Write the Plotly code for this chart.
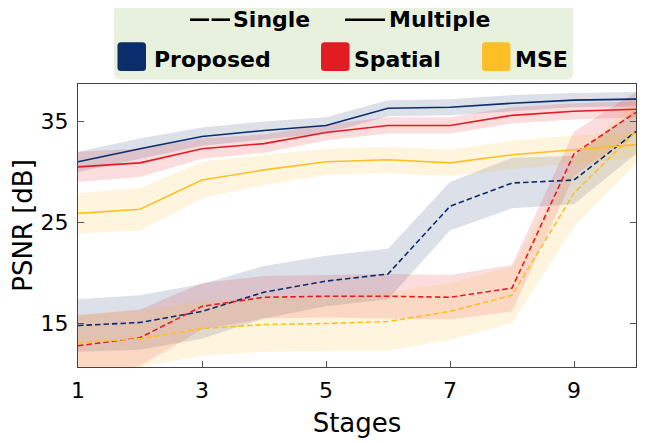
import plotly.graph_objects as go

stages = [1, 2, 3, 4, 5, 6, 7, 8, 9, 10]

# Multiple (solid) mean and spread
multi_proposed = [31.0, 32.3, 33.5, 34.1, 34.6, 36.3, 36.4, 36.8, 37.1, 37.2]
multi_proposed_sd = [1.0, 1.0, 0.9, 0.9, 0.8, 0.8, 0.8, 0.8, 0.7, 0.7]
multi_spatial = [30.5, 30.9, 32.3, 32.8, 33.9, 34.6, 34.6, 35.6, 36.0, 36.2]
multi_spatial_sd = [1.5, 1.4, 1.0, 0.9, 0.8, 0.8, 0.8, 0.8, 0.8, 0.8]
multi_mse = [25.9, 26.3, 29.2, 30.2, 31.0, 31.2, 30.9, 31.7, 32.2, 32.7]
multi_mse_sd = [2.0, 2.1, 1.8, 1.5, 1.3, 1.3, 1.3, 1.4, 1.4, 1.2]

# Single (dashed) mean and spread
single_proposed = [14.8, 15.1, 16.2, 18.1, 19.2, 19.9, 26.6, 28.9, 29.2, 34.0]
single_proposed_sd = [2.6, 2.7, 2.7, 2.6, 2.5, 2.5, 2.4, 2.5, 2.4, 2.2]
single_spatial = [12.8, 13.6, 16.7, 17.6, 17.7, 17.7, 17.6, 18.5, 31.8, 35.9]
single_spatial_sd = [3.0, 2.8, 2.3, 2.1, 2.1, 2.2, 2.2, 2.3, 2.2, 2.0]
single_mse = [13.1, 13.5, 14.5, 14.9, 15.0, 15.2, 16.2, 17.8, 27.9, 34.0]
single_mse_sd = [2.8, 2.8, 2.7, 2.7, 2.7, 2.9, 2.8, 2.8, 3.3, 3.2]

x_ticks = [1, 3, 5, 7, 9]
y_ticks = [15, 25, 35]

methods = ["Proposed", "Spatial", "MSE"]
colors = {"Proposed": "#0b2d6b", "Spatial": "#e31b23", "MSE": "#fdbf26"}
fills = {"Proposed": "rgba(11,45,107,0.15)", "Spatial": "rgba(227,27,35,0.15)",
         "MSE": "rgba(253,191,38,0.15)"}

series = {
    ("Proposed", "multi"): (multi_proposed, multi_proposed_sd),
    ("Spatial", "multi"): (multi_spatial, multi_spatial_sd),
    ("MSE", "multi"): (multi_mse, multi_mse_sd),
    ("Proposed", "single"): (single_proposed, single_proposed_sd),
    ("Spatial", "single"): (single_spatial, single_spatial_sd),
    ("MSE", "single"): (single_mse, single_mse_sd),
}

fig = go.Figure()

# bands
for m in methods:
    for kind in ["multi", "single"]:
        mean, sd = series[(m, kind)]
        up = [a + b for a, b in zip(mean, sd)]
        lo = [a - b for a, b in zip(mean, sd)]
        fig.add_trace(go.Scatter(
            x=stages + stages[::-1], y=up + lo[::-1], fill="toself",
            fillcolor=fills[m], line=dict(width=0), mode="lines",
            hoverinfo="skip", showlegend=False))

# lines
for m in methods:
    for kind in ["multi", "single"]:
        mean, sd = series[(m, kind)]
        fig.add_trace(go.Scatter(
            x=stages, y=mean, mode="lines",
            line=dict(color=colors[m], width=1.6,
                      dash="solid" if kind == "multi" else "5.5px,3px"),
            showlegend=False, name=f"{m} {kind}"))

# page offset (body margin) and plot-area geometry in screen pixels
OFF = 8
W, H = 657, 443
PL, PR, PT, PB = 78, 636, 84, 367          # plot area on screen
ML, MR, MT, MB = PL - OFF, W - (PR - OFF), PT - OFF, H - (PB - OFF)
PW, PH = W - ML - MR, H - MT - MB


def px(x):
    return (x - OFF - ML) / PW


def py(y):
    return (H - MB - (y - OFF)) / PH


def rrect(x0, y0, x1, y1, r):
    rx, ry = r / PW, r / PH
    X0, X1 = px(x0), px(x1)
    Y0, Y1 = py(y1), py(y0)  # bottom, top
    return (f"M {X0+rx},{Y0} L {X1-rx},{Y0} Q {X1},{Y0} {X1},{Y0+ry} "
            f"L {X1},{Y1-ry} Q {X1},{Y1} {X1-rx},{Y1} L {X0+rx},{Y1} "
            f"Q {X0},{Y1} {X0},{Y1-ry} L {X0},{Y0+ry} Q {X0},{Y0} {X0+rx},{Y0} Z")


shapes = []
annotations = []
# legend box
shapes.append(dict(type="path", xref="paper", yref="paper",
                   path=rrect(114, 1, 573, 79.5, 7),
                   fillcolor="#e8f0de", line=dict(width=0), layer="above"))
# line samples
ly = 19.7
for xa, xb in [(190, 209), (211.5, 230)]:
    shapes.append(dict(type="line", xref="paper", yref="paper",
                       x0=px(xa), x1=px(xb), y0=py(ly), y1=py(ly),
                       line=dict(color="black", width=2.6)))
shapes.append(dict(type="line", xref="paper", yref="paper",
                   x0=px(345), x1=px(385), y0=py(ly), y1=py(ly),
                   line=dict(color="black", width=2.6)))
legend_font = dict(family="DejaVu Sans", size=22, color="black")
for text, x0 in [("Single", 231), ("Multiple", 387)]:
    annotations.append(dict(text=f"<b>{text}</b>", xref="paper", yref="paper",
                            x=px(x0), y=py(19.5), xanchor="left", yanchor="middle",
                            showarrow=False, font=legend_font))
# color squares
for m, sx, tx in [("Proposed", 117.5, 152), ("Spatial", 321, 352), ("MSE", 482, 513)]:
    shapes.append(dict(type="path", xref="paper", yref="paper",
                       path=rrect(sx, 42.3, sx + 28.5, 71, 3.5),
                       fillcolor=colors[m], line=dict(width=0)))
    annotations.append(dict(text=f"<b>{m}</b>", xref="paper", yref="paper",
                            x=px(tx), y=py(59), xanchor="left", yanchor="middle",
                            showarrow=False, font=legend_font))

fig.update_layout(
    width=W, height=H,
    margin=dict(l=ML, r=MR, t=MT, b=MB, autoexpand=False),
    paper_bgcolor="white", plot_bgcolor="white",
    font=dict(family="DejaVu Sans", size=22, color="black"),
    shapes=shapes, annotations=annotations,
    showlegend=False,
)
fig.update_xaxes(
    range=[1, 10], tickvals=x_ticks, ticktext=[str(v) for v in x_ticks],
    ticks="inside", ticklen=6, tickwidth=1.3, tickcolor="#555",
    showline=True, linecolor="#444", linewidth=1.3, mirror=True,
    showgrid=False, zeroline=False,
    title=dict(text="Stages", standoff=12),
    tickfont=dict(size=22), ticklabelstandoff=3,
)
fig.update_yaxes(
    range=[10.7, 38.7], tickvals=y_ticks, ticktext=[str(v) for v in y_ticks],
    ticks="inside", ticklen=6, tickwidth=1.3, tickcolor="#555",
    showline=True, linecolor="#444", linewidth=1.3, mirror="allticks",
    showgrid=False, zeroline=False,
    title=dict(text="PSNR [dB]", standoff=4),
    tickfont=dict(size=22), ticklabelstandoff=4,
)

fig.write_html("out.html")
